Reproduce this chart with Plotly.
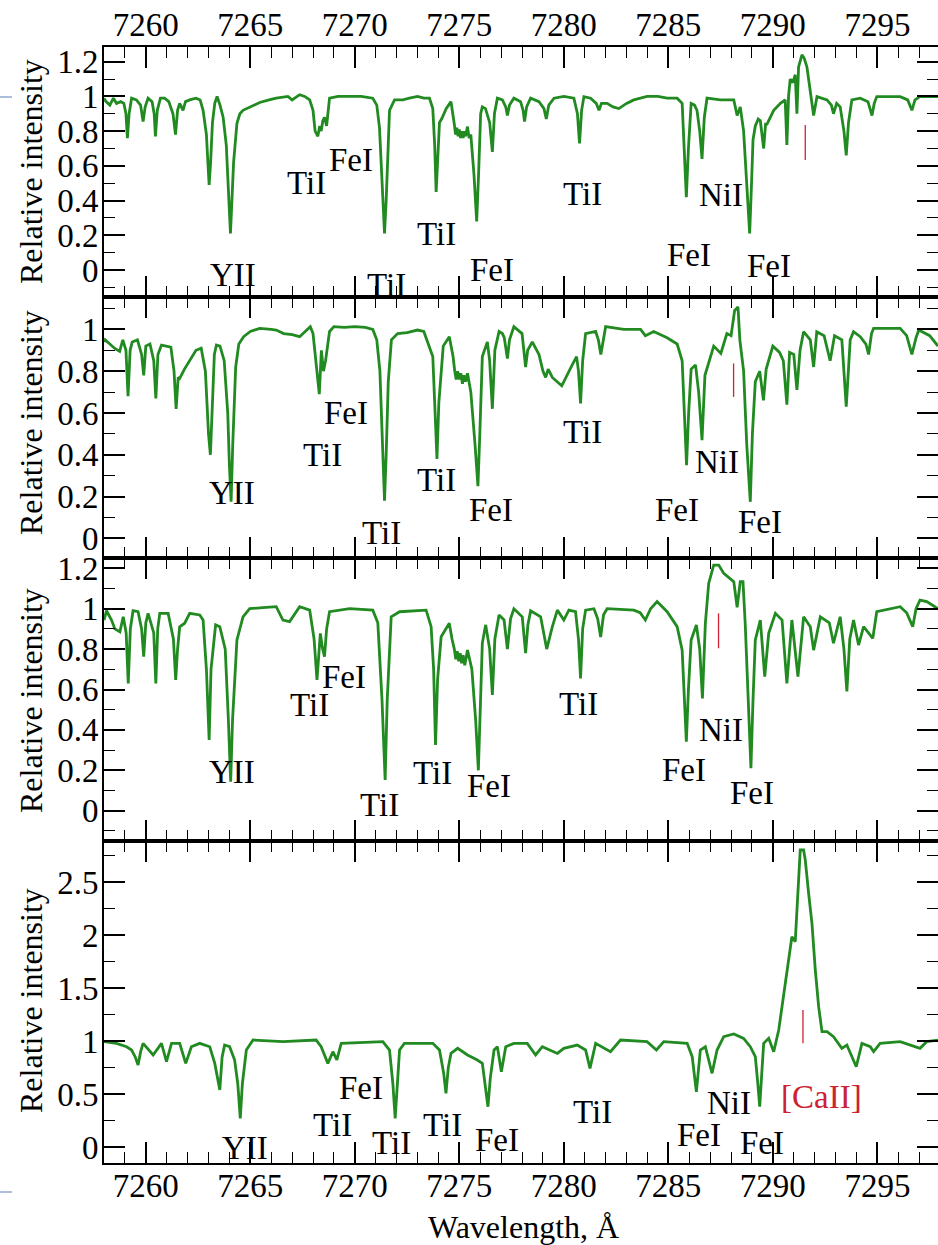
import plotly.graph_objects as go

# ---------------- data (wavelength [A], relative intensity) ----------------
spec1 = [
    (7258.00, 0.99), (7258.10, 0.97), (7258.28, 0.95), (7258.45, 0.99), (7258.60, 0.96), (7258.80, 0.97),
    (7258.95, 0.96), (7259.05, 0.90), (7259.12, 0.76), (7259.20, 0.90), (7259.32, 0.99), (7259.55, 0.98),
    (7259.75, 0.95), (7259.87, 0.855), (7259.97, 0.94), (7260.11, 0.99), (7260.30, 0.97), (7260.40, 0.90),
    (7260.46, 0.77), (7260.55, 0.92), (7260.70, 0.99), (7260.90, 0.99), (7261.10, 0.97), (7261.30, 0.90),
    (7261.42, 0.78), (7261.52, 0.92), (7261.62, 0.96), (7261.78, 0.92), (7261.90, 0.97), (7262.10, 0.98),
    (7262.40, 0.99), (7262.60, 0.98), (7262.74, 0.92), (7262.90, 0.78), (7262.97, 0.62), (7263.03, 0.49),
    (7263.10, 0.62), (7263.19, 0.85), (7263.30, 0.96), (7263.41, 1.00), (7263.55, 0.95), (7263.70, 0.88),
    (7263.85, 0.72), (7263.95, 0.45), (7264.05, 0.21), (7264.12, 0.40), (7264.20, 0.62), (7264.36, 0.845),
    (7264.50, 0.90), (7264.65, 0.92), (7265.00, 0.94), (7265.45, 0.965), (7265.90, 0.98), (7266.24, 0.99),
    (7266.80, 1.00), (7267.00, 0.98), (7267.36, 1.01), (7267.60, 1.00), (7267.84, 0.98), (7268.00, 0.92),
    (7268.10, 0.80), (7268.23, 0.77), (7268.32, 0.83), (7268.39, 0.80), (7268.47, 0.86), (7268.55, 0.88),
    (7268.65, 0.83), (7268.79, 0.99), (7269.20, 1.00), (7269.75, 1.00), (7270.30, 1.00), (7270.86, 0.99),
    (7271.05, 0.95), (7271.18, 0.82), (7271.30, 0.55), (7271.42, 0.21), (7271.50, 0.40), (7271.58, 0.70),
    (7271.66, 0.92), (7271.90, 0.98), (7272.30, 0.98), (7272.61, 0.99), (7273.00, 1.00), (7273.30, 0.99),
    (7273.57, 0.99), (7273.73, 0.93), (7273.82, 0.72), (7273.89, 0.45), (7273.97, 0.65), (7274.05, 0.85),
    (7274.15, 0.87), (7274.37, 0.93), (7274.60, 0.97), (7274.70, 0.90), (7274.76, 0.84), (7274.82, 0.78),
    (7274.88, 0.82), (7274.94, 0.77), (7275.00, 0.81), (7275.06, 0.76), (7275.12, 0.80), (7275.18, 0.76),
    (7275.24, 0.80), (7275.30, 0.77), (7275.39, 0.826), (7275.47, 0.76), (7275.55, 0.78), (7275.70, 0.55),
    (7275.83, 0.28), (7275.92, 0.55), (7276.02, 0.90), (7276.10, 0.94), (7276.25, 0.93), (7276.45, 0.85),
    (7276.58, 0.68), (7276.68, 0.90), (7276.82, 0.99), (7277.06, 0.98), (7277.22, 0.94), (7277.30, 0.89),
    (7277.40, 0.95), (7277.61, 0.99), (7277.93, 0.97), (7278.05, 0.92), (7278.12, 0.855), (7278.22, 0.94),
    (7278.41, 0.99), (7278.81, 0.97), (7279.05, 0.93), (7279.16, 0.87), (7279.28, 0.95), (7279.53, 0.99),
    (7280.00, 1.00), (7280.48, 0.99), (7280.65, 0.90), (7280.75, 0.73), (7280.85, 0.92), (7280.96, 0.999),
    (7281.28, 0.99), (7281.55, 0.96), (7281.68, 0.92), (7281.80, 0.96), (7282.07, 0.96), (7282.35, 0.94),
    (7282.63, 0.93), (7283.00, 0.96), (7283.35, 0.98), (7283.98, 1.00), (7284.50, 1.00), (7284.94, 0.99),
    (7285.42, 0.99), (7285.66, 0.96), (7285.76, 0.70), (7285.86, 0.42), (7285.96, 0.70), (7286.09, 0.96),
    (7286.25, 0.95), (7286.37, 0.92), (7286.50, 0.80), (7286.61, 0.64), (7286.72, 0.88), (7286.85, 0.99),
    (7287.49, 0.98), (7288.13, 0.98), (7288.29, 0.89), (7288.44, 0.94), (7288.60, 0.80), (7288.75, 0.50),
    (7288.89, 0.21), (7288.98, 0.50), (7289.05, 0.75), (7289.16, 0.83), (7289.30, 0.87), (7289.40, 0.86),
    (7289.56, 0.70), (7289.65, 0.84), (7289.72, 0.84), (7290.04, 0.92), (7290.36, 0.96), (7290.59, 0.98),
    (7290.67, 0.72), (7290.75, 1.00), (7290.83, 1.10), (7290.95, 1.08), (7291.07, 1.125), (7291.15, 0.90),
    (7291.23, 1.17), (7291.39, 1.24), (7291.50, 1.22), (7291.63, 1.17), (7291.79, 1.04), (7291.95, 0.89),
    (7292.11, 0.999), (7292.59, 0.98), (7292.80, 0.95), (7292.90, 0.90), (7293.05, 0.96), (7293.22, 0.94),
    (7293.40, 0.80), (7293.51, 0.66), (7293.62, 0.85), (7293.78, 0.98), (7294.18, 0.99), (7294.55, 0.97),
    (7294.74, 0.89), (7294.85, 0.96), (7294.97, 0.999), (7295.50, 1.00), (7296.09, 0.999), (7296.45, 0.98),
    (7296.65, 0.92), (7296.80, 0.98), (7297.04, 0.999), (7297.50, 1.00), (7297.90, 0.999),
]

spec2 = [
    (7258.00, 0.94), (7258.05, 0.95), (7258.28, 0.93), (7258.50, 0.91), (7258.75, 0.895), (7258.90, 0.95),
    (7259.05, 0.90), (7259.15, 0.68), (7259.25, 0.90), (7259.35, 0.94), (7259.60, 0.95), (7259.80, 0.88),
    (7259.90, 0.78), (7260.00, 0.92), (7260.20, 0.93), (7260.38, 0.85), (7260.48, 0.67), (7260.58, 0.88),
    (7260.75, 0.925), (7261.00, 0.92), (7261.20, 0.915), (7261.35, 0.80), (7261.45, 0.62), (7261.55, 0.77),
    (7261.62, 0.765), (7261.85, 0.81), (7262.10, 0.85), (7262.40, 0.90), (7262.65, 0.91), (7262.85, 0.80),
    (7263.00, 0.50), (7263.09, 0.40), (7263.17, 0.60), (7263.28, 0.88), (7263.38, 0.925), (7263.55, 0.92),
    (7263.75, 0.85), (7263.92, 0.60), (7264.00, 0.35), (7264.08, 0.175), (7264.16, 0.45), (7264.30, 0.82),
    (7264.45, 0.93), (7264.68, 0.965), (7265.00, 0.99), (7265.45, 1.005), (7266.00, 1.00), (7266.24, 0.997),
    (7266.60, 0.98), (7267.00, 0.975), (7267.36, 0.965), (7267.60, 0.99), (7267.87, 1.013), (7268.00, 0.98),
    (7268.15, 0.85), (7268.30, 0.69), (7268.40, 0.90), (7268.50, 0.80), (7268.60, 0.85), (7268.79, 0.99),
    (7269.00, 1.013), (7269.50, 1.01), (7270.00, 1.013), (7270.50, 1.01), (7270.86, 1.00), (7271.05, 0.95),
    (7271.20, 0.80), (7271.32, 0.50), (7271.42, 0.18), (7271.50, 0.40), (7271.60, 0.75), (7271.75, 0.95),
    (7272.05, 0.98), (7272.50, 0.985), (7273.00, 0.997), (7273.30, 0.99), (7273.73, 0.87), (7273.82, 0.65),
    (7273.93, 0.38), (7274.02, 0.65), (7274.23, 0.92), (7274.52, 0.965), (7274.70, 0.87), (7274.78, 0.80),
    (7274.85, 0.76), (7274.92, 0.80), (7275.00, 0.76), (7275.07, 0.79), (7275.15, 0.74), (7275.22, 0.78),
    (7275.30, 0.75), (7275.39, 0.79), (7275.55, 0.70), (7275.75, 0.45),
    (7275.89, 0.25), (7275.98, 0.50), (7276.10, 0.87), (7276.34, 0.94), (7276.45, 0.85), (7276.58, 0.62),
    (7276.70, 0.90), (7276.90, 0.99), (7277.06, 0.98), (7277.15, 0.96), (7277.30, 0.86), (7277.40, 0.95),
    (7277.61, 1.013), (7278.00, 0.98), (7278.10, 0.90), (7278.17, 0.82), (7278.27, 0.90), (7278.49, 0.94),
    (7278.81, 0.88), (7279.00, 0.80), (7279.13, 0.77), (7279.25, 0.81), (7279.45, 0.77), (7279.75, 0.74),
    (7279.90, 0.73), (7280.40, 0.83), (7280.61, 0.87), (7280.70, 0.80), (7280.80, 0.646), (7280.90, 0.85),
    (7281.04, 0.98), (7281.52, 0.99), (7281.65, 0.95), (7281.77, 0.88), (7281.90, 0.96), (7282.00, 1.013),
    (7282.87, 1.00), (7283.67, 1.00), (7283.90, 0.97), (7284.30, 0.99), (7284.94, 0.96), (7285.42, 0.93),
    (7285.66, 0.85), (7285.76, 0.60), (7285.87, 0.35), (7285.97, 0.60), (7286.09, 0.81), (7286.30, 0.83),
    (7286.45, 0.70), (7286.61, 0.47), (7286.75, 0.78), (7287.17, 0.92), (7287.51, 0.885), (7287.80, 0.98),
    (7288.00, 0.97), (7288.17, 1.09), (7288.33, 1.108), (7288.42, 0.95), (7288.60, 0.80), (7288.75, 0.45),
    (7288.92, 0.175), (7289.02, 0.50), (7289.16, 0.75), (7289.37, 0.80), (7289.55, 0.66), (7289.68, 0.81),
    (7290.00, 0.92), (7290.32, 0.89), (7290.50, 0.85), (7290.67, 0.64), (7290.80, 0.89), (7291.00, 0.88),
    (7291.15, 0.71), (7291.30, 0.90), (7291.47, 0.989), (7291.79, 0.95), (7291.95, 0.82), (7292.10, 0.989),
    (7292.45, 0.97), (7292.74, 0.85), (7292.95, 0.97), (7293.30, 0.95), (7293.51, 0.63), (7293.70, 0.95),
    (7293.86, 0.989), (7294.18, 0.965), (7294.45, 0.93), (7294.58, 0.88), (7294.72, 0.98), (7294.82, 1.005),
    (7296.09, 1.005), (7296.40, 0.97), (7296.65, 0.88), (7296.85, 0.96), (7296.98, 0.997), (7297.50, 0.97),
    (7297.90, 0.92),
]

spec3 = [
    (7258.00, 0.944), (7258.12, 0.99), (7258.36, 0.944), (7258.52, 0.90), (7258.76, 0.886), (7258.92, 0.96),
    (7259.06, 0.88), (7259.16, 0.63), (7259.26, 0.90), (7259.39, 0.99), (7259.63, 0.985), (7259.80, 0.90),
    (7259.90, 0.763), (7260.00, 0.93), (7260.11, 0.977), (7260.38, 0.88), (7260.48, 0.63), (7260.57, 0.90),
    (7260.67, 0.977), (7261.07, 0.977), (7261.32, 0.85), (7261.43, 0.647), (7261.52, 0.80), (7261.62, 0.91),
    (7261.86, 0.928), (7262.10, 0.977), (7262.58, 0.969), (7262.74, 0.944), (7262.90, 0.70), (7263.03, 0.35),
    (7263.12, 0.70), (7263.34, 0.92), (7263.54, 0.911), (7263.80, 0.80), (7263.95, 0.45), (7264.06, 0.144),
    (7264.15, 0.45), (7264.36, 0.845), (7264.65, 0.96), (7264.97, 1.00), (7265.60, 1.005), (7266.24, 1.01),
    (7266.56, 0.944), (7266.88, 0.936), (7267.36, 1.01), (7267.84, 0.993), (7268.05, 0.85), (7268.19, 0.647),
    (7268.35, 0.878), (7268.46, 0.80), (7268.55, 0.763), (7268.65, 0.90), (7268.79, 0.985), (7269.75, 1.00),
    (7270.86, 0.993), (7271.10, 0.93), (7271.30, 0.55), (7271.45, 0.152), (7271.55, 0.55), (7271.74, 0.96),
    (7272.14, 0.985), (7273.41, 0.993), (7273.65, 0.911), (7273.77, 0.70), (7273.86, 0.325), (7273.96, 0.65),
    (7274.13, 0.861), (7274.52, 0.928), (7274.65, 0.85), (7274.76, 0.80), (7274.83, 0.75), (7274.90, 0.79),
    (7274.97, 0.74), (7275.04, 0.78), (7275.11, 0.73), (7275.18, 0.77), (7275.26, 0.72), (7275.33, 0.77),
    (7275.39, 0.795), (7275.60, 0.70), (7275.78, 0.45), (7275.91, 0.20), (7276.00, 0.55), (7276.10, 0.83),
    (7276.26, 0.92), (7276.45, 0.80), (7276.58, 0.573), (7276.70, 0.85), (7276.90, 0.969), (7277.14, 0.944),
    (7277.30, 0.80), (7277.45, 0.95), (7277.61, 1.00), (7278.01, 0.96), (7278.17, 0.78), (7278.28, 0.92),
    (7278.41, 0.99), (7278.89, 0.96), (7279.18, 0.80), (7279.45, 0.911), (7279.69, 0.993), (7280.00, 0.944),
    (7280.24, 0.993), (7280.56, 0.985), (7280.70, 0.85), (7280.80, 0.655), (7280.90, 0.90), (7281.04, 0.993),
    (7281.44, 1.00), (7281.62, 0.95), (7281.76, 0.86), (7281.90, 0.97), (7282.07, 1.00), (7283.35, 0.993),
    (7283.65, 0.98), (7283.90, 0.944), (7284.15, 1.00), (7284.46, 1.035), (7284.94, 0.985), (7285.42, 0.911),
    (7285.66, 0.795), (7285.76, 0.55), (7285.86, 0.342), (7285.96, 0.60), (7286.09, 0.845), (7286.34, 0.919),
    (7286.50, 0.80), (7286.63, 0.556), (7286.77, 0.928), (7286.93, 1.125), (7287.17, 1.216), (7287.41, 1.216),
    (7287.65, 1.175), (7288.13, 1.134), (7288.29, 1.007), (7288.44, 1.134), (7288.57, 1.134), (7288.68, 0.92),
    (7288.82, 0.55), (7288.95, 0.21), (7289.05, 0.55), (7289.16, 0.845), (7289.40, 0.944), (7289.61, 0.664),
    (7289.80, 0.878), (7290.12, 0.977), (7290.44, 0.944), (7290.67, 0.63), (7290.91, 0.944), (7291.20, 0.664),
    (7291.47, 0.96), (7291.79, 0.911), (7291.95, 0.795), (7292.27, 0.96), (7292.70, 0.93), (7292.90, 0.829),
    (7293.22, 0.96), (7293.40, 0.80), (7293.54, 0.59), (7293.68, 0.85), (7293.86, 0.944), (7294.10, 0.82),
    (7294.34, 0.911), (7294.78, 0.853), (7294.97, 0.985), (7296.09, 1.01), (7296.40, 0.98), (7296.69, 0.911),
    (7296.85, 1.00), (7297.04, 1.043), (7297.36, 1.035), (7297.90, 1.00),
]

spec4 = [
    (7258.00, 0.997), (7258.60, 0.981), (7259.08, 0.949), (7259.32, 0.918), (7259.50, 0.85), (7259.63, 0.776),
    (7259.75, 0.90), (7259.87, 0.981), (7260.35, 0.871), (7260.51, 0.918), (7260.75, 0.981), (7260.99, 0.808),
    (7261.23, 0.981), (7261.62, 0.981), (7261.91, 0.792), (7262.18, 0.949), (7262.58, 0.981), (7263.06, 0.949),
    (7263.30, 0.792), (7263.54, 0.541), (7263.65, 0.85), (7263.77, 0.965), (7264.01, 0.949), (7264.25, 0.824),
    (7264.40, 0.60), (7264.52, 0.273), (7264.62, 0.60), (7264.81, 0.918), (7265.13, 1.012), (7266.56, 0.997),
    (7268.15, 1.012), (7268.39, 0.949), (7268.71, 0.792), (7268.95, 0.902), (7269.14, 0.824), (7269.35, 0.981),
    (7271.34, 0.997), (7271.66, 0.918), (7271.82, 0.60), (7271.93, 0.273), (7272.02, 0.60), (7272.14, 0.918),
    (7272.37, 0.981), (7273.73, 0.981), (7274.05, 0.918), (7274.25, 0.70), (7274.36, 0.509), (7274.47, 0.75),
    (7274.60, 0.886), (7274.92, 0.934), (7275.39, 0.871), (7275.86, 0.824), (7276.10, 0.792), (7276.28, 0.55),
    (7276.37, 0.383), (7276.48, 0.65), (7276.66, 0.918), (7276.82, 0.949), (7277.01, 0.713), (7277.22, 0.949),
    (7277.61, 0.981), (7278.25, 0.981), (7278.65, 0.871), (7278.97, 0.949), (7279.37, 0.918), (7279.69, 0.886),
    (7280.00, 0.934), (7280.64, 0.965), (7281.04, 0.918), (7281.25, 0.745), (7281.52, 0.981), (7282.23, 0.902),
    (7282.71, 1.012), (7283.98, 0.997), (7284.43, 0.918), (7284.78, 0.997), (7285.90, 0.981), (7286.14, 0.855),
    (7286.34, 0.524), (7286.53, 0.918), (7286.77, 0.949), (7287.09, 0.698), (7287.33, 0.918), (7287.65, 1.044),
    (7288.13, 1.069), (7288.60, 1.028), (7288.92, 0.949), (7289.16, 0.855), (7289.28, 0.60), (7289.37, 0.383),
    (7289.47, 0.70), (7289.56, 0.981), (7289.80, 1.028), (7290.04, 0.902), (7290.28, 1.107), (7290.51, 1.421),
    (7290.75, 1.798), (7290.91, 1.987), (7291.07, 1.94), (7291.23, 2.459), (7291.31, 2.805), (7291.47, 2.805),
    (7291.55, 2.711), (7291.71, 2.396), (7291.87, 2.113), (7292.03, 1.672), (7292.19, 1.327), (7292.35, 1.091),
    (7292.59, 1.091), (7292.90, 1.044), (7293.30, 0.934), (7293.54, 0.965), (7293.99, 0.76), (7294.26, 0.981),
    (7294.66, 0.949), (7294.82, 0.902), (7295.13, 0.981), (7296.09, 0.997), (7297.04, 0.934), (7297.36, 0.997),
    (7297.90, 1.012),
]

# line identifications: (text, wavelength, intensity position)
labels1 = [("YII", 7264.16, -0.03), ("TiI", 7267.7, 0.50), ("FeI", 7269.84, 0.634), ("TiI", 7271.5, -0.086),
           ("TiI", 7273.9, 0.21), ("FeI", 7276.58, 0.0), ("TiI", 7280.9, 0.44), ("NiI", 7287.5, 0.43),
           ("FeI", 7286.0, 0.086), ("FeI", 7289.8, 0.02)]
labels2 = [("YII", 7264.1, 0.217), ("FeI", 7269.58, 0.60), ("TiI", 7268.47, 0.40), ("TiI", 7271.26, 0.024),
           ("TiI", 7273.89, 0.28), ("FeI", 7276.5, 0.135), ("TiI", 7280.88, 0.51), ("NiI", 7287.33, 0.367),
           ("FeI", 7285.42, 0.135), ("FeI", 7289.39, 0.08)]
labels3 = [("YII", 7264.1, 0.19), ("FeI", 7269.5, 0.663), ("TiI", 7267.84, 0.523), ("TiI", 7271.18, 0.028),
           ("TiI", 7273.73, 0.185), ("FeI", 7276.41, 0.12), ("TiI", 7280.7, 0.53), ("NiI", 7287.5, 0.40),
           ("FeI", 7285.73, 0.20), ("FeI", 7288.98, 0.086)]
labels4 = [("YII", 7264.73, -0.01), ("FeI", 7270.3, 0.557), ("TiI", 7268.95, 0.21), ("TiI", 7271.74, 0.04),
           ("TiI", 7274.2, 0.21), ("FeI", 7276.82, 0.07), ("TiI", 7281.36, 0.336), ("NiI", 7287.88, 0.415),
           ("FeI", 7286.45, 0.116), ("FeI", 7289.47, 0.038)]

# [CaII] 7291.47 marker positions (wavelength, y-bottom, y-top) per panel
markers = [(7291.55, 0.634, 0.835), (7288.12, 0.677, 0.837), (7287.40, 0.804, 0.977), (7291.44, 0.981, 1.295)]
caii_label = ("[CaII]", 7292.35, 0.477)

y_ranges = [[-0.156, 1.285], [-0.094, 1.155], [-0.150, 1.251], [-0.148, 2.890]]
y_dticks = [0.2, 0.2, 0.2, 0.5]
x_range = [7258.0, 7297.9]

# ---------------- layout ----------------
W, H = 938, 1245
ML, MT, MB = 104, 47, 82
bounds_px = [47, 297, 558, 841, 1163]   # panel edges (px from top)
plot_h = H - MT - MB


def yfrac(px):
    return (H - MB - px) / plot_h


FONT = "Liberation Serif"
GREEN = "#218a21"
RED = "#cc2233"
FS = 33

fig = go.Figure()
specs = [spec1, spec2, spec3, spec4]
labels = [labels1, labels2, labels3, labels4]

for i in range(4):
    n = "" if i == 0 else str(i + 1)
    wl = [p[0] for p in specs[i]]
    fl = [p[1] for p in specs[i]]
    fig.add_trace(go.Scatter(x=wl, y=fl, mode="lines", line=dict(color=GREEN, width=2.8),
                             xaxis="x" + n, yaxis="y" + n, showlegend=False, hoverinfo="skip"))
    mw, m0, m1 = markers[i]
    fig.add_trace(go.Scatter(x=[mw, mw], y=[m0, m1], mode="lines", line=dict(color=RED, width=1.3),
                             xaxis="x" + n, yaxis="y" + n, showlegend=False, hoverinfo="skip"))

    dom = [yfrac(bounds_px[i + 1]), yfrac(bounds_px[i])]
    xa = dict(range=x_range, domain=[0, 1], anchor="y" + n, showline=True, linewidth=2, linecolor="black",
              mirror="ticks", ticks="inside", ticklen=21, tickwidth=1.6, tickcolor="black",
              tick0=7260, dtick=5, showgrid=False, zeroline=False,
              minor=dict(ticks="inside", ticklen=11, tickwidth=1.4, tickcolor="black", dtick=1, tick0=7260, showgrid=False),
              tickfont=dict(family=FONT, size=FS, color="black"),
              showticklabels=(i == 0 or i == 3), side=("top" if i == 0 else "bottom"))
    if i == 0:
        xa["ticklabelstandoff"] = -4
    if i == 3:
        xa["ticklabelstandoff"] = -8
    if i > 0:
        xa["matches"] = "x"
    ya = dict(range=y_ranges[i], domain=dom, anchor="x" + n, showline=True, linewidth=2, linecolor="black",
              mirror="ticks", ticks="inside", ticklen=21, tickwidth=1.6, tickcolor="black",
              tick0=0, dtick=y_dticks[i], showgrid=False, zeroline=False,
              minor=dict(ticks="inside", ticklen=11, tickwidth=1.4, tickcolor="black", dtick=y_dticks[i] / 2, showgrid=False),
              tickfont=dict(family=FONT, size=FS, color="black"), ticklabelstandoff=-3)
    fig.layout["xaxis" + n] = xa
    fig.layout["yaxis" + n] = ya

    for txt, lw, li in labels[i]:
        fig.add_annotation(x=lw, y=li, xref="x" + n, yref="y" + n, text=txt, showarrow=False,
                           xanchor="center", yanchor="middle", font=dict(family=FONT, size=FS, color="black"))

# [CaII] label in bottom panel
fig.add_annotation(x=caii_label[1], y=caii_label[2], xref="x4", yref="y4", text=caii_label[0], showarrow=False,
                   xanchor="center", yanchor="middle", font=dict(family=FONT, size=FS, color=RED))

# y-axis titles
title_centers_px = [172, 423, 701, 1001]
for cy in title_centers_px:
    fig.add_annotation(x=(31 - ML) / (W - ML), y=yfrac(cy), xref="paper", yref="paper",
                       text="Relative intensity", textangle=-90, showarrow=False,
                       xanchor="center", yanchor="middle", font=dict(family=FONT, size=32, color="black"))

# x-axis title
fig.add_annotation(x=(523 - ML) / (W - ML), y=yfrac(1227), xref="paper", yref="paper",
                   text="Wavelength, Å", showarrow=False, xanchor="center", yanchor="middle",
                   font=dict(family=FONT, size=32, color="black"))

# small page-edge marks at left
for py in [97, 1192]:
    fig.add_shape(type="line", xref="paper", yref="paper", x0=(0 - ML) / (W - ML), x1=(12 - ML) / (W - ML),
                  y0=yfrac(py), y1=yfrac(py), line=dict(color="#8fa8d0", width=1.5))

fig.update_layout(width=W, height=H, margin=dict(l=ML, r=0, t=MT, b=MB, autoexpand=False),
                  paper_bgcolor="white", plot_bgcolor="white", showlegend=False)

fig.write_html("out.html", config={"displayModeBar": False},
               post_script="document.body.style.margin='0px';")
